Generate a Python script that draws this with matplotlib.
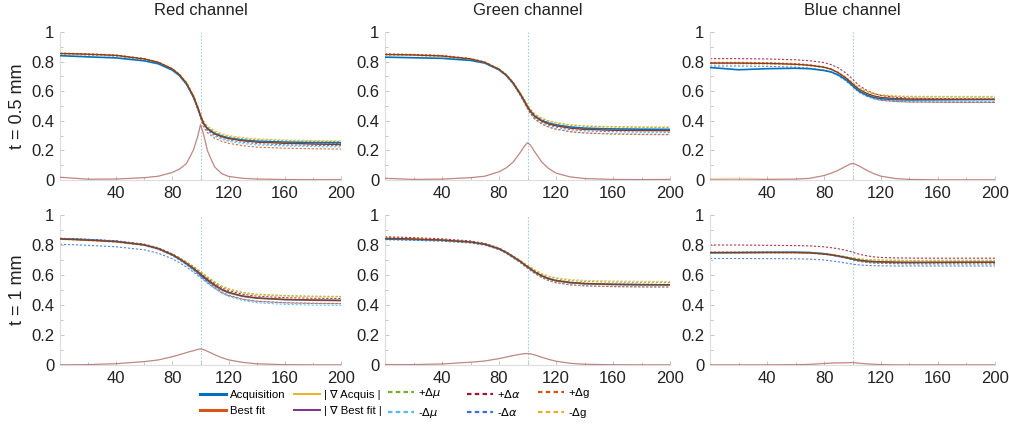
import matplotlib
matplotlib.use("Agg")
import matplotlib.pyplot as plt
from matplotlib.lines import Line2D
from matplotlib.ticker import MultipleLocator

plt.rcParams['font.family'] = ['Liberation Sans', 'DejaVu Sans']

# position along the profile (shared by all panels)
xs = [0, 20, 40, 60, 70, 80, 85, 90, 95, 98, 100, 102, 105, 110, 115, 120, 130, 140, 160, 180, 200]

# ---- Red channel, t = 0.5 mm
red05_acq = [0.840, 0.832, 0.825, 0.805, 0.785, 0.742, 0.705, 0.648, 0.560, 0.488, 0.432, 0.385, 0.348, 0.315, 0.297, 0.284, 0.270, 0.262, 0.256, 0.253, 0.252]
red05_fit = [0.855, 0.850, 0.842, 0.818, 0.795, 0.750, 0.712, 0.655, 0.565, 0.490, 0.435, 0.385, 0.345, 0.312, 0.293, 0.280, 0.265, 0.256, 0.248, 0.243, 0.240]
red05_gacq = [0.020, 0.006, 0.006, 0.015, 0.025, 0.050, 0.072, 0.110, 0.200, 0.290, 0.370, 0.320, 0.200, 0.090, 0.045, 0.025, 0.012, 0.008, 0.004, 0.003, 0.004]
red05_gfit = [0.018, 0.005, 0.007, 0.016, 0.026, 0.052, 0.074, 0.112, 0.205, 0.295, 0.375, 0.315, 0.195, 0.088, 0.043, 0.024, 0.011, 0.006, 0.003, 0.002, 0.002]
red05_pmu = [0.856, 0.851, 0.843, 0.820, 0.797, 0.753, 0.716, 0.660, 0.572, 0.498, 0.442, 0.395, 0.356, 0.325, 0.306, 0.294, 0.280, 0.272, 0.265, 0.262, 0.260]
red05_mmu = [0.852, 0.847, 0.839, 0.815, 0.792, 0.746, 0.707, 0.648, 0.556, 0.480, 0.425, 0.372, 0.330, 0.295, 0.275, 0.262, 0.246, 0.237, 0.230, 0.226, 0.224]
red05_pal = [0.853, 0.848, 0.840, 0.817, 0.794, 0.749, 0.711, 0.653, 0.563, 0.488, 0.433, 0.383, 0.345, 0.313, 0.295, 0.283, 0.269, 0.261, 0.254, 0.250, 0.248]
red05_mal = [0.850, 0.845, 0.838, 0.814, 0.791, 0.746, 0.708, 0.651, 0.562, 0.487, 0.432, 0.380, 0.338, 0.303, 0.283, 0.270, 0.255, 0.246, 0.238, 0.234, 0.232]
red05_pg = [0.858, 0.853, 0.845, 0.821, 0.797, 0.750, 0.710, 0.650, 0.555, 0.477, 0.420, 0.362, 0.318, 0.283, 0.262, 0.248, 0.232, 0.222, 0.215, 0.211, 0.209]
red05_mg = [0.850, 0.846, 0.839, 0.816, 0.794, 0.751, 0.715, 0.660, 0.575, 0.503, 0.448, 0.402, 0.364, 0.333, 0.314, 0.301, 0.287, 0.278, 0.271, 0.267, 0.265]

# ---- Green channel, t = 0.5 mm
green05_acq = [0.830, 0.826, 0.822, 0.808, 0.790, 0.745, 0.708, 0.653, 0.578, 0.528, 0.493, 0.465, 0.432, 0.402, 0.384, 0.372, 0.358, 0.350, 0.345, 0.343, 0.342]
green05_fit = [0.848, 0.845, 0.838, 0.818, 0.795, 0.748, 0.710, 0.655, 0.580, 0.530, 0.495, 0.465, 0.430, 0.398, 0.378, 0.366, 0.350, 0.342, 0.336, 0.334, 0.333]
green05_gacq = [0.010, 0.004, 0.006, 0.015, 0.025, 0.055, 0.080, 0.120, 0.185, 0.230, 0.250, 0.235, 0.190, 0.120, 0.075, 0.045, 0.020, 0.010, 0.004, 0.003, 0.006]
green05_gfit = [0.012, 0.004, 0.006, 0.016, 0.026, 0.056, 0.082, 0.122, 0.188, 0.232, 0.252, 0.238, 0.192, 0.122, 0.077, 0.047, 0.021, 0.010, 0.004, 0.003, 0.003]
green05_pmu = [0.850, 0.847, 0.840, 0.820, 0.798, 0.752, 0.715, 0.662, 0.590, 0.542, 0.508, 0.480, 0.446, 0.416, 0.397, 0.386, 0.371, 0.363, 0.358, 0.356, 0.355]
green05_mmu = [0.846, 0.842, 0.835, 0.815, 0.791, 0.743, 0.704, 0.647, 0.570, 0.518, 0.482, 0.450, 0.413, 0.380, 0.358, 0.345, 0.328, 0.319, 0.313, 0.311, 0.310]
green05_pal = [0.849, 0.846, 0.839, 0.819, 0.796, 0.749, 0.711, 0.657, 0.583, 0.533, 0.499, 0.470, 0.436, 0.405, 0.386, 0.374, 0.358, 0.350, 0.344, 0.342, 0.341]
green05_mal = [0.847, 0.843, 0.836, 0.816, 0.793, 0.746, 0.708, 0.652, 0.577, 0.526, 0.490, 0.459, 0.423, 0.390, 0.369, 0.357, 0.340, 0.332, 0.326, 0.324, 0.323]
green05_pg = [0.852, 0.849, 0.842, 0.821, 0.797, 0.748, 0.708, 0.650, 0.572, 0.519, 0.482, 0.450, 0.412, 0.378, 0.356, 0.343, 0.326, 0.317, 0.310, 0.307, 0.306]
green05_mg = [0.844, 0.841, 0.834, 0.815, 0.793, 0.748, 0.712, 0.660, 0.590, 0.542, 0.509, 0.481, 0.448, 0.418, 0.400, 0.389, 0.374, 0.366, 0.361, 0.359, 0.358]

# ---- Blue channel, t = 0.5 mm
blue05_acq = [0.760, 0.745, 0.752, 0.755, 0.752, 0.740, 0.730, 0.710, 0.680, 0.656, 0.638, 0.620, 0.598, 0.574, 0.558, 0.549, 0.543, 0.541, 0.542, 0.543, 0.544]
blue05_fit = [0.790, 0.790, 0.788, 0.782, 0.775, 0.762, 0.748, 0.725, 0.692, 0.668, 0.650, 0.633, 0.610, 0.585, 0.568, 0.558, 0.550, 0.547, 0.546, 0.545, 0.545]
blue05_gacq = [0.008, 0.012, 0.008, 0.006, 0.010, 0.030, 0.045, 0.065, 0.090, 0.105, 0.110, 0.105, 0.092, 0.065, 0.042, 0.025, 0.010, 0.004, 0.002, 0.002, 0.003]
blue05_gfit = [0.002, 0.002, 0.003, 0.006, 0.012, 0.030, 0.046, 0.066, 0.092, 0.107, 0.112, 0.107, 0.093, 0.066, 0.043, 0.026, 0.010, 0.004, 0.001, 0.001, 0.001]
blue05_pmu = [0.792, 0.792, 0.790, 0.784, 0.777, 0.764, 0.750, 0.728, 0.697, 0.675, 0.658, 0.642, 0.620, 0.597, 0.581, 0.572, 0.565, 0.562, 0.561, 0.560, 0.560]
blue05_mmu = [0.787, 0.787, 0.785, 0.779, 0.772, 0.759, 0.745, 0.721, 0.686, 0.660, 0.641, 0.622, 0.598, 0.572, 0.554, 0.543, 0.535, 0.532, 0.531, 0.530, 0.530]
blue05_pal = [0.820, 0.820, 0.818, 0.812, 0.806, 0.793, 0.780, 0.758, 0.725, 0.700, 0.681, 0.662, 0.636, 0.606, 0.585, 0.571, 0.559, 0.553, 0.550, 0.549, 0.548]
blue05_mal = [0.770, 0.770, 0.768, 0.762, 0.755, 0.742, 0.728, 0.705, 0.672, 0.648, 0.630, 0.612, 0.590, 0.565, 0.548, 0.538, 0.530, 0.527, 0.526, 0.525, 0.525]
blue05_pg = [0.795, 0.795, 0.793, 0.787, 0.779, 0.765, 0.750, 0.725, 0.689, 0.662, 0.642, 0.623, 0.598, 0.570, 0.551, 0.540, 0.531, 0.527, 0.525, 0.524, 0.524]
blue05_mg = [0.785, 0.785, 0.783, 0.777, 0.771, 0.759, 0.746, 0.725, 0.695, 0.674, 0.658, 0.643, 0.622, 0.600, 0.585, 0.576, 0.569, 0.566, 0.565, 0.565, 0.565]

# ---- Red channel, t = 1 mm
red1_acq = [0.842, 0.835, 0.824, 0.801, 0.776, 0.734, 0.706, 0.675, 0.640, 0.617, 0.600, 0.585, 0.563, 0.530, 0.502, 0.482, 0.458, 0.446, 0.436, 0.432, 0.430]
red1_fit = [0.840, 0.832, 0.822, 0.800, 0.775, 0.735, 0.708, 0.678, 0.645, 0.622, 0.607, 0.592, 0.570, 0.535, 0.505, 0.485, 0.460, 0.447, 0.437, 0.433, 0.431]
red1_gacq = [0.002, 0.002, 0.008, 0.022, 0.033, 0.055, 0.068, 0.082, 0.095, 0.103, 0.108, 0.104, 0.092, 0.070, 0.050, 0.035, 0.018, 0.008, 0.003, 0.002, 0.002]
red1_gfit = [0.001, 0.003, 0.009, 0.023, 0.034, 0.056, 0.069, 0.083, 0.096, 0.104, 0.107, 0.103, 0.091, 0.069, 0.049, 0.034, 0.017, 0.008, 0.002, 0.001, 0.001]
red1_pmu = [0.841, 0.834, 0.824, 0.802, 0.778, 0.740, 0.715, 0.688, 0.658, 0.637, 0.623, 0.609, 0.588, 0.555, 0.527, 0.508, 0.484, 0.472, 0.463, 0.459, 0.457]
red1_mmu = [0.839, 0.830, 0.819, 0.796, 0.770, 0.728, 0.699, 0.666, 0.630, 0.605, 0.589, 0.572, 0.548, 0.511, 0.479, 0.457, 0.430, 0.415, 0.404, 0.399, 0.397]
red1_pal = [0.845, 0.838, 0.828, 0.806, 0.781, 0.741, 0.714, 0.684, 0.652, 0.630, 0.615, 0.600, 0.579, 0.545, 0.516, 0.496, 0.472, 0.459, 0.449, 0.445, 0.443]
red1_mal = [0.805, 0.798, 0.788, 0.768, 0.745, 0.708, 0.682, 0.653, 0.620, 0.598, 0.583, 0.568, 0.546, 0.512, 0.482, 0.462, 0.437, 0.424, 0.414, 0.410, 0.408]
red1_pg = [0.843, 0.835, 0.824, 0.801, 0.775, 0.733, 0.704, 0.672, 0.637, 0.612, 0.596, 0.579, 0.555, 0.519, 0.488, 0.466, 0.440, 0.426, 0.416, 0.412, 0.410]
red1_mg = [0.837, 0.829, 0.820, 0.799, 0.775, 0.737, 0.712, 0.684, 0.653, 0.632, 0.618, 0.604, 0.584, 0.551, 0.523, 0.504, 0.481, 0.468, 0.459, 0.455, 0.453]

# ---- Green channel, t = 1 mm
green1_acq = [0.840, 0.837, 0.832, 0.820, 0.805, 0.775, 0.751, 0.722, 0.690, 0.668, 0.654, 0.640, 0.620, 0.594, 0.574, 0.562, 0.549, 0.542, 0.537, 0.535, 0.534]
green1_fit = [0.845, 0.840, 0.833, 0.820, 0.805, 0.775, 0.750, 0.720, 0.690, 0.668, 0.655, 0.642, 0.622, 0.595, 0.575, 0.563, 0.550, 0.543, 0.538, 0.536, 0.535]
green1_gacq = [0.004, 0.003, 0.006, 0.018, 0.026, 0.042, 0.052, 0.062, 0.071, 0.075, 0.077, 0.075, 0.068, 0.052, 0.038, 0.026, 0.012, 0.005, 0.002, 0.002, 0.002]
green1_gfit = [0.002, 0.003, 0.007, 0.019, 0.027, 0.043, 0.053, 0.063, 0.072, 0.076, 0.076, 0.074, 0.067, 0.051, 0.037, 0.025, 0.011, 0.005, 0.002, 0.001, 0.001]
green1_pmu = [0.848, 0.843, 0.836, 0.823, 0.808, 0.779, 0.755, 0.726, 0.697, 0.676, 0.664, 0.651, 0.632, 0.606, 0.587, 0.576, 0.563, 0.557, 0.553, 0.551, 0.550]
green1_mmu = [0.842, 0.837, 0.830, 0.816, 0.801, 0.770, 0.744, 0.713, 0.682, 0.659, 0.645, 0.631, 0.610, 0.582, 0.561, 0.548, 0.534, 0.527, 0.522, 0.520, 0.519]
green1_pal = [0.855, 0.849, 0.841, 0.827, 0.811, 0.780, 0.754, 0.723, 0.692, 0.670, 0.657, 0.644, 0.624, 0.597, 0.577, 0.565, 0.552, 0.545, 0.540, 0.538, 0.537]
green1_mal = [0.835, 0.831, 0.825, 0.813, 0.799, 0.770, 0.746, 0.717, 0.687, 0.665, 0.652, 0.639, 0.619, 0.592, 0.572, 0.560, 0.547, 0.540, 0.535, 0.533, 0.532]
green1_pg = [0.847, 0.842, 0.835, 0.821, 0.805, 0.773, 0.747, 0.715, 0.683, 0.660, 0.646, 0.632, 0.611, 0.583, 0.562, 0.549, 0.535, 0.528, 0.523, 0.521, 0.520]
green1_mg = [0.843, 0.838, 0.831, 0.819, 0.805, 0.777, 0.754, 0.726, 0.698, 0.678, 0.666, 0.654, 0.636, 0.611, 0.593, 0.582, 0.570, 0.564, 0.560, 0.558, 0.557]

# ---- Blue channel, t = 1 mm
blue1_acq = [0.748, 0.749, 0.751, 0.752, 0.750, 0.742, 0.735, 0.726, 0.716, 0.710, 0.706, 0.702, 0.697, 0.691, 0.688, 0.686, 0.684, 0.683, 0.684, 0.685, 0.686]
blue1_fit = [0.750, 0.750, 0.750, 0.749, 0.747, 0.740, 0.734, 0.727, 0.718, 0.712, 0.708, 0.704, 0.699, 0.693, 0.690, 0.688, 0.686, 0.685, 0.685, 0.685, 0.685]
blue1_gacq = [0.002, 0.002, 0.002, 0.003, 0.005, 0.012, 0.015, 0.014, 0.013, 0.015, 0.017, 0.014, 0.010, 0.006, 0.004, 0.003, 0.002, 0.002, 0.002, 0.002, 0.002]
blue1_gfit = [0.001, 0.001, 0.001, 0.002, 0.004, 0.009, 0.012, 0.014, 0.015, 0.016, 0.016, 0.015, 0.012, 0.008, 0.005, 0.003, 0.001, 0.001, 0.001, 0.001, 0.001]
blue1_pmu = [0.752, 0.752, 0.752, 0.751, 0.749, 0.743, 0.737, 0.731, 0.723, 0.718, 0.715, 0.712, 0.708, 0.703, 0.701, 0.700, 0.699, 0.698, 0.698, 0.698, 0.698]
blue1_mmu = [0.748, 0.748, 0.748, 0.747, 0.745, 0.737, 0.731, 0.723, 0.713, 0.706, 0.701, 0.696, 0.690, 0.683, 0.679, 0.677, 0.675, 0.674, 0.673, 0.673, 0.673]
blue1_pal = [0.800, 0.800, 0.798, 0.796, 0.794, 0.788, 0.782, 0.775, 0.765, 0.758, 0.752, 0.746, 0.738, 0.728, 0.721, 0.717, 0.714, 0.713, 0.712, 0.712, 0.712]
blue1_mal = [0.710, 0.710, 0.709, 0.708, 0.706, 0.700, 0.694, 0.688, 0.680, 0.676, 0.673, 0.670, 0.667, 0.664, 0.662, 0.661, 0.660, 0.660, 0.660, 0.660, 0.660]
blue1_pg = [0.752, 0.752, 0.752, 0.750, 0.748, 0.740, 0.733, 0.725, 0.714, 0.707, 0.702, 0.697, 0.691, 0.684, 0.680, 0.678, 0.676, 0.675, 0.675, 0.675, 0.675]
blue1_mg = [0.748, 0.748, 0.748, 0.747, 0.746, 0.740, 0.735, 0.729, 0.722, 0.717, 0.714, 0.711, 0.707, 0.702, 0.700, 0.698, 0.697, 0.696, 0.696, 0.696, 0.696]

col_titles = ['Red channel', 'Green channel', 'Blue channel']
row_titles = ['t = 0.5 mm', 't = 1 mm']
x_ticks = [40, 80, 120, 160, 200]
y_ticks = [0, 0.2, 0.4, 0.6, 0.8, 1]
y_ticklabels = ['0', '0.2', '0.4', '0.6', '0.8', '1']
edge_pos = 100

panels = [
    [(red05_acq, red05_fit, red05_gacq, red05_gfit, red05_pmu, red05_mmu, red05_pal, red05_mal, red05_pg, red05_mg),
     (green05_acq, green05_fit, green05_gacq, green05_gfit, green05_pmu, green05_mmu, green05_pal, green05_mal, green05_pg, green05_mg),
     (blue05_acq, blue05_fit, blue05_gacq, blue05_gfit, blue05_pmu, blue05_mmu, blue05_pal, blue05_mal, blue05_pg, blue05_mg)],
    [(red1_acq, red1_fit, red1_gacq, red1_gfit, red1_pmu, red1_mmu, red1_pal, red1_mal, red1_pg, red1_mg),
     (green1_acq, green1_fit, green1_gacq, green1_gfit, green1_pmu, green1_mmu, green1_pal, green1_mal, green1_pg, green1_mg),
     (blue1_acq, blue1_fit, blue1_gacq, blue1_gfit, blue1_pmu, blue1_mmu, blue1_pal, blue1_mal, blue1_pg, blue1_mg)],
]

# colours (matlab default order)
c_acq = '#0072BD'
c_fit = '#D95319'
c_gacq = '#EDB120'
c_gfit = '#7E2F8E'
dash_styles = [('#77AC30', '+$\\Delta\\mu$'), ('#4DBEEE', '-$\\Delta\\mu$'),
               ('#A2142F', '+$\\Delta\\alpha$'), ('#3A6FD8', '-$\\Delta\\alpha$'),
               ('#D95319', '+$\\Delta$g'), ('#EDB120', '-$\\Delta$g')]
dash = (0, (2, 1.6))
gray = '#BBBBBB'

fig = plt.figure(figsize=(10.09, 4.25), dpi=100)
W, H = 1009, 425
lefts = [60, 385, 710]
widths = [281, 285, 285]
tops = [32, 215]
bottoms = [180, 365]

for r in range(2):
    for c in range(3):
        ax = fig.add_axes([lefts[c] / W, 1 - bottoms[r] / H, widths[c] / W, (bottoms[r] - tops[r]) / H])
        acq, fit, gacq, gfit = panels[r][c][:4]
        extra = panels[r][c][4:]
        ax.axvline(edge_pos, color='#9FCFF0', lw=0.8, ls=(0, (1.5, 1.5)), zorder=1)
        for (col, _), ys in zip(dash_styles, extra):
            ax.plot(xs, ys, color=col, lw=0.8, ls=dash, alpha=0.85, zorder=2)
        ax.plot(xs, acq, color=c_acq, lw=1.2, zorder=3)
        ax.plot(xs, fit, color=c_fit, lw=1.0, zorder=4)
        ax.plot(xs, fit, color='#333333', lw=0.4, zorder=4)
        ax.plot(xs, gacq, color=c_gacq, lw=0.9, alpha=0.5, zorder=3)
        ax.plot(xs, gfit, color=c_gfit, lw=0.8, alpha=0.5, zorder=3)
        ax.set_xlim(0, 200)
        ax.set_ylim(0, 1)
        ax.set_xticks(x_ticks)
        ax.xaxis.set_minor_locator(MultipleLocator(20))
        ax.set_yticks(y_ticks)
        ax.set_yticklabels(y_ticklabels)
        ax.yaxis.set_minor_locator(MultipleLocator(0.1))
        ax.tick_params(which='both', direction='in', color=gray, labelsize=12, labelcolor='#222222', pad=4)
        ax.tick_params(which='major', length=3, width=0.6)
        ax.tick_params(which='minor', length=2, width=0.6)
        for s in ['top', 'right']:
            ax.spines[s].set_visible(False)
        for s in ['left', 'bottom']:
            ax.spines[s].set_color('#DDDDDD')
            ax.spines[s].set_linewidth(0.8)
        ax.patch.set_alpha(0)
        if r == 0:
            ax.set_title(col_titles[c], fontsize=12, pad=12, color='#222222')
        if c == 0:
            ax.set_ylabel(row_titles[r], fontsize=13, labelpad=4, color='#222222')

handles = [Line2D([], [], color=c_acq, lw=2.2), Line2D([], [], color=c_fit, lw=2.2),
           Line2D([], [], color=c_gacq, lw=1.4), Line2D([], [], color=c_gfit, lw=1.4)]
labels = ['Acquisition', 'Best fit', '| \u2207 Acquis |', '| \u2207 Best fit |']
for col, lab in dash_styles:
    handles.append(Line2D([], [], color=col, lw=1.6, ls=(0, (2, 1.5))))
    labels.append(lab)

# one small legend per column, placed where the reference has them
leg_x = [200, 294, 388, 467, 538]
for i, lx in enumerate(leg_x):
    fig.legend(handles[2 * i:2 * i + 2], labels[2 * i:2 * i + 2], loc='center left',
               bbox_to_anchor=(lx / W, 1 - 403 / H), frameon=False,
               prop={'size': 8.2}, handlelength=2.3, handletextpad=0.3,
               labelspacing=0.5, borderpad=0, borderaxespad=0)

fig.savefig('out.png', dpi=100)
